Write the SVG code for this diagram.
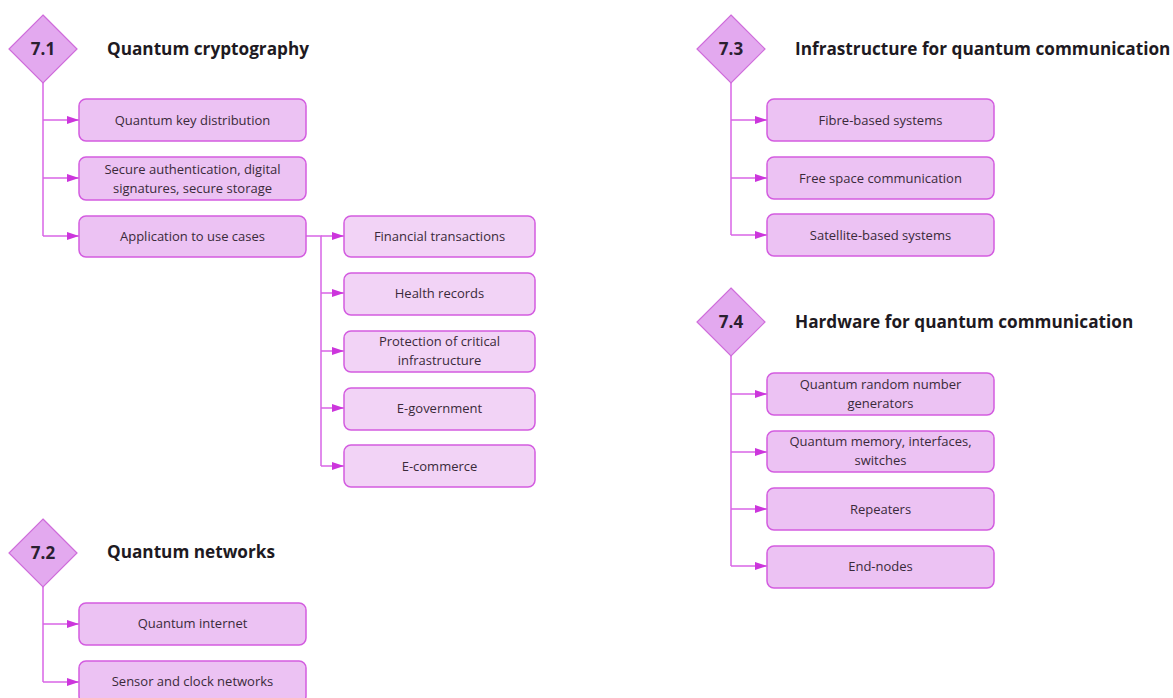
<svg xmlns="http://www.w3.org/2000/svg" width="1173" height="698" viewBox="0 0 1173 698">
  <style>
    .box { fill: #ecc2f3; stroke: #d35ce0; stroke-width: 1.5; }
    .sub { fill: #f2d3f6; stroke: #d35ce0; stroke-width: 1.5; }
    .dia { fill: #e3a9ef; stroke: #cf6cdb; stroke-width: 1.2; }
    .lbl { font-family: "Open Sans", "Noto Sans", sans-serif; font-size: 13px; fill: #3a2a3a; text-anchor: middle; }
    .num { font-family: "Open Sans", "Noto Sans", sans-serif; font-size: 17px; font-weight: bold; fill: #2a2030; text-anchor: middle; }
    .ttl { font-family: "Open Sans", "Noto Sans", sans-serif; font-size: 17.2px; font-weight: bold; fill: #1e1a22; }
    .ln { fill: none; stroke: #d865e6; stroke-width: 1.5; marker-end: url(#arr); }
    .tr { fill: none; stroke: #d865e6; stroke-width: 1.5; }
  </style>
  <defs>
    <marker id="arr" viewBox="0 0 12 8" refX="12" refY="4" markerWidth="12" markerHeight="8" markerUnits="userSpaceOnUse" orient="auto">
      <path d="M0,0 L12,4 L0,8 Z" fill="#cc35dc"/>
    </marker>
  </defs>

  <rect width="1173" height="698" fill="#ffffff"/>

  <!-- connectors -->
  <g id="connectors">
    <!-- 7.1 trunk -->
    <path class="tr" d="M43,83 V236"/>
    <path class="ln" d="M43,120 H79"/>
    <path class="ln" d="M43,178 H79"/>
    <path class="ln" d="M43,236 H79"/>
    <!-- use cases trunk -->
    <path class="tr" d="M306,236 H321 V466"/>
    <path class="ln" d="M321,236 H344"/>
    <path class="ln" d="M321,293 H344"/>
    <path class="ln" d="M321,351 H344"/>
    <path class="ln" d="M321,408 H344"/>
    <path class="ln" d="M321,466 H344"/>
    <!-- 7.2 trunk -->
    <path class="tr" d="M43,586 V682"/>
    <path class="ln" d="M43,624 H79"/>
    <path class="ln" d="M43,682 H79"/>
    <!-- 7.3 trunk -->
    <path class="tr" d="M731,83 V235"/>
    <path class="ln" d="M731,120 H767"/>
    <path class="ln" d="M731,178 H767"/>
    <path class="ln" d="M731,235 H767"/>
    <!-- 7.4 trunk -->
    <path class="tr" d="M731,356 V566"/>
    <path class="ln" d="M731,394 H767"/>
    <path class="ln" d="M731,452 H767"/>
    <path class="ln" d="M731,509 H767"/>
    <path class="ln" d="M731,566 H767"/>
  </g>

  <!-- section 7.1 -->
  <g id="s71">
    <polygon class="dia" points="43,15 77,49 43,83 9,49"/>
    <text class="num" x="43" y="55">7.1</text>
    <text class="ttl" x="107" y="55">Quantum cryptography</text>
  </g>
  <g id="n-qkd">
    <rect class="box" x="79" y="99" width="227" height="42" rx="7"/>
    <text class="lbl" x="192.5" y="125">Quantum key distribution</text>
  </g>
  <g id="n-auth">
    <rect class="box" x="79" y="157" width="227" height="43" rx="7"/>
    <text class="lbl" x="192.5" y="174">Secure authentication, digital</text>
    <text class="lbl" x="192.5" y="193">signatures, secure storage</text>
  </g>
  <g id="n-usecases">
    <rect class="box" x="79" y="216" width="227" height="41" rx="7"/>
    <text class="lbl" x="192.5" y="241">Application to use cases</text>
  </g>
  <g id="n-fin">
    <rect class="sub" x="344" y="216" width="191" height="41" rx="7"/>
    <text class="lbl" x="439.5" y="241">Financial transactions</text>
  </g>
  <g id="n-health">
    <rect class="sub" x="344" y="273" width="191" height="42" rx="7"/>
    <text class="lbl" x="439.5" y="298">Health records</text>
  </g>
  <g id="n-infra">
    <rect class="sub" x="344" y="331" width="191" height="41" rx="7"/>
    <text class="lbl" x="439.5" y="346">Protection of critical</text>
    <text class="lbl" x="439.5" y="365">infrastructure</text>
  </g>
  <g id="n-egov">
    <rect class="sub" x="344" y="388" width="191" height="42" rx="7"/>
    <text class="lbl" x="439.5" y="413">E-government</text>
  </g>
  <g id="n-ecom">
    <rect class="sub" x="344" y="445" width="191" height="42" rx="7"/>
    <text class="lbl" x="439.5" y="471">E-commerce</text>
  </g>

  <!-- section 7.2 -->
  <g id="s72">
    <polygon class="dia" points="43,519 77,553 43,587 9,553"/>
    <text class="num" x="43" y="559">7.2</text>
    <text class="ttl" x="107" y="558">Quantum networks</text>
  </g>
  <g id="n-qinternet">
    <rect class="box" x="79" y="603" width="227" height="42" rx="7"/>
    <text class="lbl" x="192.5" y="628">Quantum internet</text>
  </g>
  <g id="n-sensor">
    <rect class="box" x="79" y="661" width="227" height="42" rx="7"/>
    <text class="lbl" x="192.5" y="686">Sensor and clock networks</text>
  </g>

  <!-- section 7.3 -->
  <g id="s73">
    <polygon class="dia" points="731,15 765,49 731,83 697,49"/>
    <text class="num" x="731" y="55">7.3</text>
    <text class="ttl" x="795" y="55">Infrastructure for quantum communication</text>
  </g>
  <g id="n-fibre">
    <rect class="box" x="767" y="99" width="227" height="42" rx="7"/>
    <text class="lbl" x="880.5" y="125">Fibre-based systems</text>
  </g>
  <g id="n-free">
    <rect class="box" x="767" y="157" width="227" height="42" rx="7"/>
    <text class="lbl" x="880.5" y="183">Free space communication</text>
  </g>
  <g id="n-sat">
    <rect class="box" x="767" y="214" width="227" height="42" rx="7"/>
    <text class="lbl" x="880.5" y="240">Satellite-based systems</text>
  </g>

  <!-- section 7.4 -->
  <g id="s74">
    <polygon class="dia" points="731,288 765,322 731,356 697,322"/>
    <text class="num" x="731" y="328">7.4</text>
    <text class="ttl" x="795" y="328">Hardware for quantum communication</text>
  </g>
  <g id="n-qrng">
    <rect class="box" x="767" y="373" width="227" height="42" rx="7"/>
    <text class="lbl" x="880.5" y="389">Quantum random number</text>
    <text class="lbl" x="880.5" y="408">generators</text>
  </g>
  <g id="n-memory">
    <rect class="box" x="767" y="431" width="227" height="41" rx="7"/>
    <text class="lbl" x="880.5" y="446">Quantum memory, interfaces,</text>
    <text class="lbl" x="880.5" y="465">switches</text>
  </g>
  <g id="n-repeaters">
    <rect class="box" x="767" y="488" width="227" height="42" rx="7"/>
    <text class="lbl" x="880.5" y="514">Repeaters</text>
  </g>
  <g id="n-endnodes">
    <rect class="box" x="767" y="546" width="227" height="42" rx="7"/>
    <text class="lbl" x="880.5" y="571">End-nodes</text>
  </g>
</svg>
